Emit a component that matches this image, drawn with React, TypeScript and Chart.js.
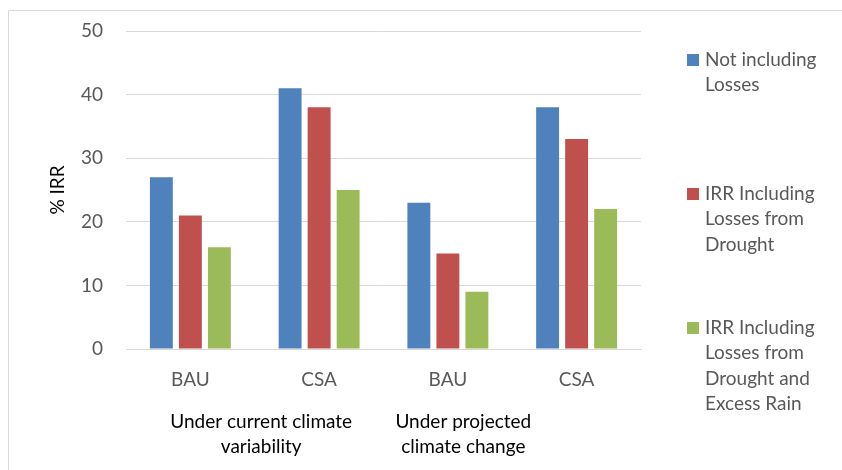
import React, { useEffect, useRef } from "react";
import { Chart, registerables } from "chart.js";

Chart.register(...registerables);

const categories = ["BAU", "CSA", "BAU", "CSA"];
const groupLabels = [
  ["Under current climate", "variability"],
  ["Under projected", "climate change"],
];
const seriesNames = [
  ["Not including", "Losses"],
  ["IRR Including", "Losses from", "Drought"],
  ["IRR Including", "Losses from", "Drought and", "Excess Rain"],
];
const notIncludingLosses = [27, 41, 23, 38];
const lossesDrought = [21, 38, 15, 33];
const lossesDroughtRain = [16, 25, 9, 22];
const yMin = 0;
const yMax = 50;
const yStep = 10;
const yTitle = "% IRR";

const COLORS = ["#4F81BD", "#C0504D", "#9BBB59"];
const FONT = "Lato, 'Open Sans', sans-serif";
const TICK_COLOR = "#595959";

const decorPlugin = {
  id: "decor",
  beforeDraw(chart: any) {
    const ctx = chart.ctx;
    ctx.save();
    ctx.fillStyle = "#ffffff";
    ctx.fillRect(0, 0, chart.width, chart.height);
    ctx.strokeStyle = "#d9d9d9";
    ctx.lineWidth = 1;
    ctx.beginPath();
    ctx.moveTo(8.5, chart.height);
    ctx.lineTo(8.5, 10.5);
    ctx.lineTo(chart.width, 10.5);
    ctx.stroke();
    ctx.restore();
  },
  afterDraw(chart: any) {
    const ctx = chart.ctx;
    const xs = chart.scales.x;
    ctx.save();
    // group labels
    ctx.font = `19px ${FONT}`;
    ctx.fillStyle = "#000000";
    ctx.textAlign = "center";
    ctx.textBaseline = "alphabetic";
    const groupPos = [0.55, 2.12];
    groupLabels.forEach((lines, i) => {
      const cx = xs.getPixelForValue(groupPos[i]);
      lines.forEach((line, j) => ctx.fillText(line, cx, 428 + j * 24.5));
    });
    // legend
    const starts = [66, 200, 334];
    ctx.textAlign = "left";
    chart.data.datasets.forEach((ds: any, i: number) => {
      const base = starts[i];
      ctx.fillStyle = ds.backgroundColor;
      ctx.fillRect(687, base - 12, 12, 12);
      ctx.fillStyle = TICK_COLOR;
      seriesNames[i].forEach((line, j) => ctx.fillText(line, 705, base + j * 25.3));
    });
    ctx.restore();
  },
};

export default function App() {
  const ref = useRef<HTMLCanvasElement | null>(null);
  useEffect(() => {
    document.body.style.margin = "0";
    const canvas = ref.current;
    if (!canvas) return;
    const series = [notIncludingLosses, lossesDrought, lossesDroughtRain];
    const chart = new Chart(canvas, {
      type: "bar",
      data: {
        labels: categories,
        datasets: series.map((data, i) => ({
          label: seriesNames[i].join(" "),
          data,
          backgroundColor: COLORS[i],
          borderWidth: 0,
          categoryPercentage: 0.676,
          barPercentage: 0.79,
        })),
      },
      options: {
        responsive: false,
        animation: false,
        devicePixelRatio: 1,
        layout: { padding: { top: 31, right: 201, bottom: 0, left: 0 } },
        plugins: {
          legend: { display: false },
          tooltip: { enabled: false },
        },
        scales: {
          x: {
            grid: { display: false, drawTicks: false },
            border: { display: true, color: "#d9d9d9", width: 1 },
            ticks: {
              color: TICK_COLOR,
              font: { family: FONT, size: 19 },
              padding: 19,
              maxRotation: 0,
            },
            afterFit(scale: any) {
              scale.height = 121;
            },
          },
          y: {
            min: yMin,
            max: yMax,
            grid: { color: "#d9d9d9", drawTicks: false, lineWidth: 1 },
            border: { display: false },
            ticks: {
              stepSize: yStep,
              color: TICK_COLOR,
              font: { family: FONT, size: 19 },
              padding: 23,
            },
            title: {
              display: true,
              text: yTitle,
              color: "#000000",
              font: { family: FONT, size: 19 },
              padding: { top: 46, bottom: 0 },
            },
            afterFit(scale: any) {
              scale.width = 126;
              scale.paddingTop = 0;
              scale.paddingBottom = 0;
            },
          },
        },
      },
      plugins: [decorPlugin],
    });
    return () => chart.destroy();
  }, []);
  return <canvas ref={ref} width={842} height={470} style={{ display: "block", width: 842, height: 470 }} />;
}
